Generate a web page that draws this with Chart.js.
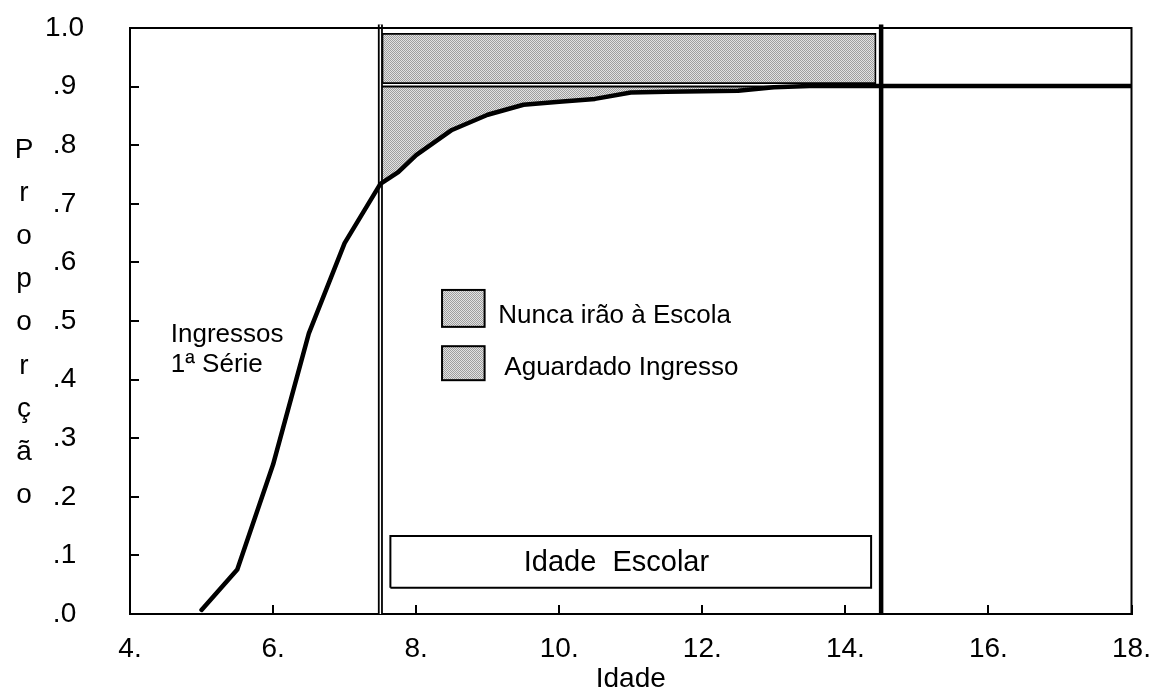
<!DOCTYPE html>
<html lang="pt-BR">
<head>
<meta charset="utf-8">
<title>Ingressos na 1ª Série por idade</title>
<script src="https://cdn.jsdelivr.net/npm/chart.js@4.4.1/dist/chart.umd.min.js"></script>
<style>
  html, body { margin: 0; padding: 0; background: #fff; }
  #caixa { width: 1157px; height: 692px; }
</style>
</head>
<body>
<div id="caixa"><canvas id="grafico"></canvas></div>
<script>
// ---- dados ----
// idade (anos) e proporção acumulada que já ingressou na 1ª série
const idades    = [5.0, 5.5, 6.0, 6.5, 7.0, 7.5, 7.75, 8.0, 8.5, 9.0, 9.5, 10.0, 10.5, 11.0, 11.5, 12.0, 12.5, 13.0, 13.5, 14.0, 15.0, 16.0, 17.0, 18.0];
const proporcao = [0.007, 0.076, 0.255, 0.479, 0.633, 0.734, 0.754, 0.783, 0.826, 0.852, 0.869, 0.874, 0.879, 0.890, 0.891, 0.892, 0.893, 0.899, 0.901, 0.901, 0.901, 0.901, 0.901, 0.901];

// faixa da idade escolar (linhas verticais)
const idadeEscolar = [7.5, 14.5];
const alturaLinhas = [0, 1.006];

// patamar final (quem um dia ingressa) e faixa dos que nunca irão
const patamarFinal = 0.9;
const nuncaX = [7.53, 14.42, 14.42, 7.53, 7.53];
const nuncaY = [0.906, 0.906, 0.99, 0.99, 0.906];

// caixa "Idade Escolar"
const caixaX = [7.64, 14.36, 14.36, 7.64, 7.64];
const caixaY = [0.045, 0.045, 0.133, 0.133, 0.045];

// rótulos dos eixos
const rotulosX = ['4.', '6.', '8.', '10.', '12.', '14.', '16.', '18.'];
const rotulosY = ['.0', '.1', '.2', '.3', '.4', '.5', '.6', '.7', '.8', '.9', '1.0'];
const tituloY = 'Proporção';

const legendaTextos = ['Nunca irão à Escola', 'Aguardado Ingresso'];

const FONTE = "'Liberation Sans', Arial, Helvetica, sans-serif";

// textura cinza pontilhada das áreas
function criarTextura() {
    const c = document.createElement('canvas');
    c.width = 2; c.height = 2;
    const g = c.getContext('2d');
    g.fillStyle = '#e2e2e2';
    g.fillRect(0, 0, 2, 2);
    g.fillStyle = '#9e9e9e';
    g.fillRect(0, 0, 1, 1);
    g.fillRect(1, 1, 1, 1);
    return g.createPattern(c, 'repeat');
}
const textura = criarTextura();

const pares = (xs, ys) => xs.map((x, i) => ({ x: x, y: ys[i] }));
const curva = pares(idades, proporcao);
const aguardando = curva.filter(p => p.x >= idadeEscolar[0]);
const vertical = (x) => alturaLinhas.map(y => ({ x: x, y: y }));

// textos e legenda desenhados por cima
const anotacoes = {
    id: 'anotacoes',
    afterDraw(chart) {
        const { ctx, chartArea: a, scales: { x, y } } = chart;
        ctx.save();

        // moldura (topo e direita)
        ctx.strokeStyle = '#000';
        ctx.lineWidth = 2;
        ctx.beginPath();
        ctx.moveTo(a.left - 1, a.top);
        ctx.lineTo(a.right, a.top);
        ctx.lineTo(a.right, a.bottom + 1);
        ctx.stroke();

        ctx.fillStyle = '#000';
        ctx.textBaseline = 'alphabetic';

        // Ingressos 1ª Série
        ctx.font = '26px ' + FONTE;
        ctx.textAlign = 'left';
        ctx.fillText('Ingressos', x.getPixelForValue(4.57), y.getPixelForValue(0.465));
        ctx.fillText('1ª Série', x.getPixelForValue(4.57), y.getPixelForValue(0.413));

        // legenda
        const caixas = [[0.553, 0.490, 9.149, 0.4966], [0.457, 0.399, 9.233, 0.4085]];
        caixas.forEach((c, i) => {
            const x0 = x.getPixelForValue(8.362), x1 = x.getPixelForValue(8.957);
            const y0 = y.getPixelForValue(c[0]), y1 = y.getPixelForValue(c[1]);
            ctx.fillStyle = textura;
            ctx.fillRect(x0, y0, x1 - x0, y1 - y0);
            ctx.lineWidth = 2;
            ctx.strokeStyle = '#000';
            ctx.strokeRect(x0, y0, x1 - x0, y1 - y0);
            ctx.fillStyle = '#000';
            ctx.fillText(legendaTextos[i], x.getPixelForValue(c[2]), y.getPixelForValue(c[3]));
        });

        // Idade Escolar
        ctx.font = '29px ' + FONTE;
        ctx.textAlign = 'center';
        ctx.textBaseline = 'middle';
        ctx.fillText('Idade  Escolar', x.getPixelForValue(10.8), y.getPixelForValue(0.087));

        // título vertical, uma letra por linha
        ctx.font = '28px ' + FONTE;
        ctx.textBaseline = 'alphabetic';
        tituloY.split('').forEach((letra, i) => {
            ctx.fillText(letra, 24, 158 + i * 43.1);
        });

        ctx.restore();
    }
};

const ctx = document.getElementById('grafico').getContext('2d');
Chart.defaults.font.family = FONTE;
Chart.defaults.color = '#000';

new Chart(ctx, {
    type: 'line',
    data: {
        datasets: [
            {   // curva de ingressos
                data: curva,
                borderColor: '#000',
                borderWidth: 4.5,
                pointRadius: 0,
                tension: 0,
                borderJoinStyle: 'round',
                borderCapStyle: 'round',
                fill: false
            },
            {   // linha interna branca (linha dupla em 7.5)
                data: vertical(idadeEscolar[0]),
                borderColor: '#fff',
                borderWidth: 1.4,
                pointRadius: 0,
                clip: 12,
                fill: false
            },
            {
                data: vertical(idadeEscolar[0]),
                borderColor: '#000',
                borderWidth: 5,
                pointRadius: 0,
                clip: 12,
                fill: false
            },
            {
                data: vertical(idadeEscolar[1]),
                borderColor: '#000',
                borderWidth: 4.5,
                pointRadius: 0,
                clip: 12,
                fill: false
            },
            {   // patamar 0.9
                data: [{ x: idadeEscolar[0], y: patamarFinal }, { x: idades[idades.length - 1], y: patamarFinal }],
                borderColor: '#000',
                borderWidth: 2,
                pointRadius: 0,
                fill: false
            },
            {   // Nunca irão à Escola
                data: pares(nuncaX, nuncaY),
                borderColor: '#000',
                borderWidth: 1.6,
                backgroundColor: textura,
                pointRadius: 0,
                fill: 'shape'
            },
            {   // Aguardado Ingresso
                data: aguardando,
                borderColor: 'transparent',
                borderWidth: 0,
                backgroundColor: textura,
                pointRadius: 0,
                fill: { value: patamarFinal }
            },
            {   // caixa Idade Escolar
                data: pares(caixaX, caixaY),
                borderColor: '#000',
                borderWidth: 2,
                pointRadius: 0,
                fill: false
            }
        ]
    },
    options: {
        responsive: true,
        maintainAspectRatio: false,
        animation: false,
        layout: { padding: { top: 28, right: 25.5, left: 0, bottom: 0 } },
        plugins: {
            legend: { display: false },
            tooltip: { enabled: false }
        },
        scales: {
            x: {
                type: 'linear',
                min: 4,
                max: 18,
                afterFit: s => {
                    s.height = 78;
                    s.paddingLeft = 0; s.paddingRight = 0;
                    s.paddingTop = 0; s.paddingBottom = 0;
                },
                ticks: {
                    stepSize: 2,
                    padding: 27,
                    maxRotation: 0,
                    font: { size: 28 },
                    callback: (v, i) => rotulosX[i]
                },
                grid: { drawOnChartArea: false, drawTicks: true, tickLength: -9, color: '#000', lineWidth: 2 },
                border: { display: true, color: '#000', width: 2 },
                title: { display: true, text: 'Idade', font: { size: 28 }, padding: { top: 0, bottom: -4 } }
            },
            y: {
                min: 0,
                max: 1,
                afterFit: s => {
                    s.width = 130;
                    s.paddingLeft = 0; s.paddingRight = 0;
                    s.paddingTop = 0; s.paddingBottom = 0;
                },
                ticks: {
                    stepSize: 0.1,
                    padding: 55,
                    crossAlign: 'center',
                    font: { size: 28 },
                    callback: (v, i) => rotulosY[i]
                },
                grid: { drawOnChartArea: false, drawTicks: true, tickLength: -9, color: '#000', lineWidth: 2 },
                border: { display: true, color: '#000', width: 2 }
            }
        }
    },
    plugins: [anotacoes]
});
</script>
</body>
</html>
